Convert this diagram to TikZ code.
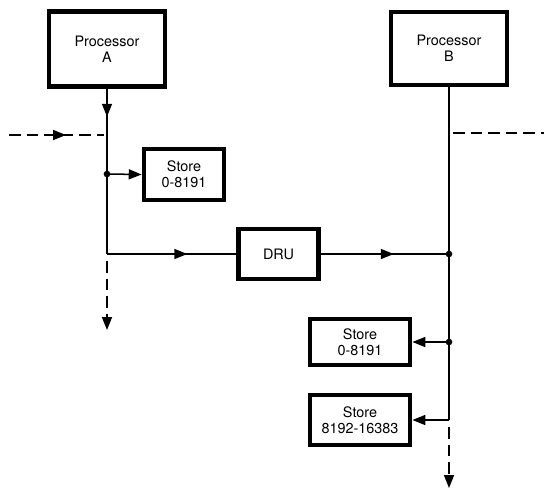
\documentclass[tikz,border=0pt]{standalone}
\usepackage{fontspec}
\setmainfont{TeX Gyre Heros}
\usetikzlibrary{arrows.meta, decorations.markings}

\begin{document}
\begin{tikzpicture}[x=0.03cm, y=-0.03cm,
    box/.style={draw, line width=3.5pt, align=center, inner sep=0pt,
        font=\fontsize{12.3}{14}\selectfont},
    wire/.style={line width=1.3pt},
    dashwire/.style={wire, dash pattern=on 10pt off 5pt},
    tip/.style={-{Triangle[length=11pt, width=8.5pt]}},
    midarrow/.style={postaction={decorate}, decoration={markings,
        mark=at position #1 with {\arrow{Triangle[length=11pt, width=8.5pt]}}}}]

    % Define picture size
    \useasboundingbox (0,0) rectangle (544,491);

    % Draw processors and stores
    \node[box, minimum width=3.5cm, minimum height=2.25cm] (procA) at (107,49) {Processor\\A};
    \node[box, minimum width=3.5cm, minimum height=2.2cm] (procB) at (449,48.5) {Processor\\B};
    \node[box, minimum width=2.42cm, minimum height=1.55cm] (storeA) at (184,174.5) {Store\\0-8191};
    \node[box, minimum width=2.4cm, minimum height=1.5cm] (dru) at (278.5,254) {DRU};
    \node[box, minimum width=3.02cm, minimum height=1.4cm] (storeB) at (360,342) {Store\\0-8191};
    \node[box, minimum width=3.02cm, minimum height=1.52cm] (storeC) at (360,420) {Store\\8192-16383};

    % Define junction points
    \coordinate (jA1) at (107,174);
    \coordinate (jA2) at (107,254);
    \coordinate (jB1) at (449,254);
    \coordinate (jB2) at (449,342);
    \coordinate (jB3) at (449,420);
    \coordinate (inA) at (9,135);
    \coordinate (inAend) at (104,135);
    \coordinate (outA) at (107,330);
    \coordinate (inB) at (453,133);
    \coordinate (inBend) at (544,133);
    \coordinate (outB) at (449,488);

    % Draw bus of processor A
    \draw[wire, midarrow=0.17] (procA.south) -- (jA2);
    \draw[wire, tip] (jA1) -- (storeA.west);
    \draw[wire, midarrow=0.62] (jA2) -- (dru.west);
    \draw[dashwire, midarrow=0.6] (inA) -- (inAend);
    \draw[dashwire, tip] ([yshift=-6pt]jA2) -- (outA);

    % Draw bus of processor B
    \draw[wire] (procB.south) -- (jB3);
    \draw[wire, midarrow=0.57] (dru.east) -- (jB1);
    \draw[wire, tip] (jB2) -- (storeB.east);
    \draw[wire, tip] (jB3) -- (storeC.east);
    \draw[dashwire] (inB) -- (inBend);
    \draw[dashwire, tip] ([yshift=-6pt]jB3) -- (outB);

    % Draw junction dots
    \foreach \j in {jA1, jB1, jB2}
        \fill (\j) circle (0.1cm);

\end{tikzpicture}
\end{document}
